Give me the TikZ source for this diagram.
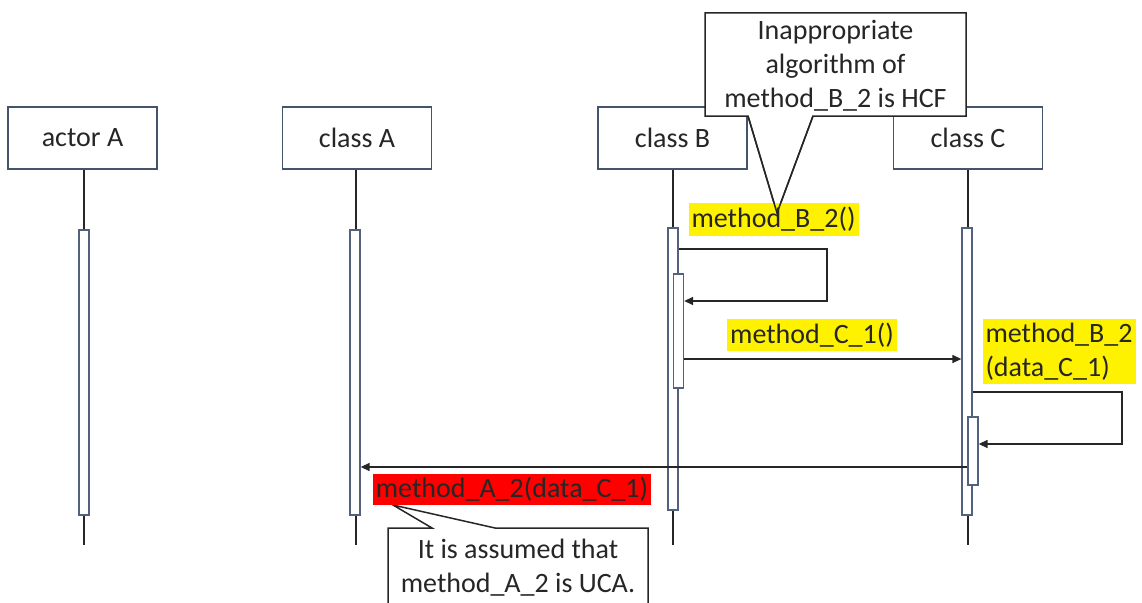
\documentclass[tikz,border=0pt]{standalone}
\usepackage{fontspec}
\setmainfont{Carlito}
\usetikzlibrary{arrows.meta}
\definecolor{boxline}{HTML}{44546A}
\definecolor{barline}{HTML}{52627E}
\definecolor{ink}{HTML}{262626}
\begin{document}
\begin{tikzpicture}[x=1pt,y=-1pt,
  font=\fontsize{28}{34}\selectfont, text=ink,
  objbox/.style={draw=boxline,line width=1.5pt,fill=white,minimum width=149pt,minimum height=62pt,inner sep=0pt},
  lifeline/.style={draw=ink,line width=1.5pt},
  actbar/.style={draw=barline,line width=1.3pt,fill=white,minimum width=10pt,inner sep=0pt},
  msg/.style={draw=ink,line width=1.4pt,-{Triangle[length=9pt,width=8pt]}},
  hl/.style={inner xsep=3pt,inner ysep=4pt},
  callout/.style={draw=ink,line width=1.5pt,fill=white}]
\useasboundingbox (0,0) rectangle (1142,602);

% object boxes
\node[objbox] (actorA) at (82.5,138) {actor A};
\node[objbox] (classA) at (357,138) {class A};
\node[objbox] (classB) at (672.5,138) {class B};
\node[objbox] (classC) at (968,138) {class C};

% lifelines
\coordinate (endActor) at (84,545);
\coordinate (endA) at (356,545);
\coordinate (endB) at (673,545);
\coordinate (endC) at (968,545);
\draw[lifeline] (actorA.south -| endActor) -- (endActor);
\draw[lifeline] (classA.south -| endA) -- (endA);
\draw[lifeline] (classB.south -| endB) -- (endB);
\draw[lifeline] (classC.south -| endC) -- (endC);

% activation bars
\node[actbar,minimum height=285pt] (barActor) at (84,372.5) {};
\node[actbar,minimum height=285pt] (barA) at (355,372.5) {};
\node[actbar,minimum height=282pt] (barB) at (673,369) {};
\node[actbar,minimum height=114pt] (barB2) at (678.5,331) {};
\node[actbar,minimum height=287pt] (barC) at (967,371.5) {};
\node[actbar,minimum height=68pt] (barC2) at (973,451) {};

% message end points
\coordinate (sB1) at (barB.east |- 0,249);
\coordinate (tB1) at (827,249);
\coordinate (tB2) at (827,301);
\coordinate (eB) at (barB2.east |- 0,301);
\coordinate (sC1) at (barB2.east |- 0,359);
\coordinate (eC1) at (barC.west |- 0,359);
\coordinate (sC) at (barC.east |- 0,392);
\coordinate (tC1) at (1122,392);
\coordinate (tC2) at (1122,444);
\coordinate (eC) at (barC2.east |- 0,444);
\coordinate (sR) at (barC2.west |- 0,467);
\coordinate (eR) at (barA.east |- 0,467);

% messages
\draw[msg] (sB1) -- (tB1) -- (tB2) -- (eB);
\draw[msg] (sC1) -- (eC1);
\draw[msg] (sC) -- (tC1) -- (tC2) -- (eC);
\draw[msg] (sR) -- (eR);

% note on method_B_2
\coordinate (hcfApex) at (777,213);
\draw[callout] (705,13) -- (966,13) -- (966,116) -- (813,116) -- (hcfApex) -- (748,116) -- (705,116) -- cycle;
\node[align=center] (hcfNote) at (835.5,66) {Inappropriate\\algorithm of\\method\_B\_2 is HCF};

% message labels
\node[hl,fill=yellow] (lblB2) at (773.5,219.5) {method\_B\_2()};
\node[hl,fill=yellow] (lblC1) at (812,335) {method\_C\_1()};
\node[hl,fill=yellow,align=left] (lblB2C) at (1059,351.5) {method\_B\_2\\(data\_C\_1)};

% pointer legs over the label
\draw[line width=1.5pt,draw=ink] (748,116) -- (hcfApex) -- (813,116);

% note on method_A_2
\coordinate (ucaApex) at (393,505);
\draw[callout] (388,528) -- (432,528) -- (ucaApex) -- (495,528) -- (648,528) -- (648,610) -- (388,610) -- cycle;
\node[align=center] (ucaNote) at (518,568) {It is assumed that\\method\_A\_2 is UCA.};

\node[hl,fill=red,inner ysep=3pt] (lblA2) at (512,489.5) {method\_A\_2(data\_C\_1)};
\end{tikzpicture}
\end{document}
